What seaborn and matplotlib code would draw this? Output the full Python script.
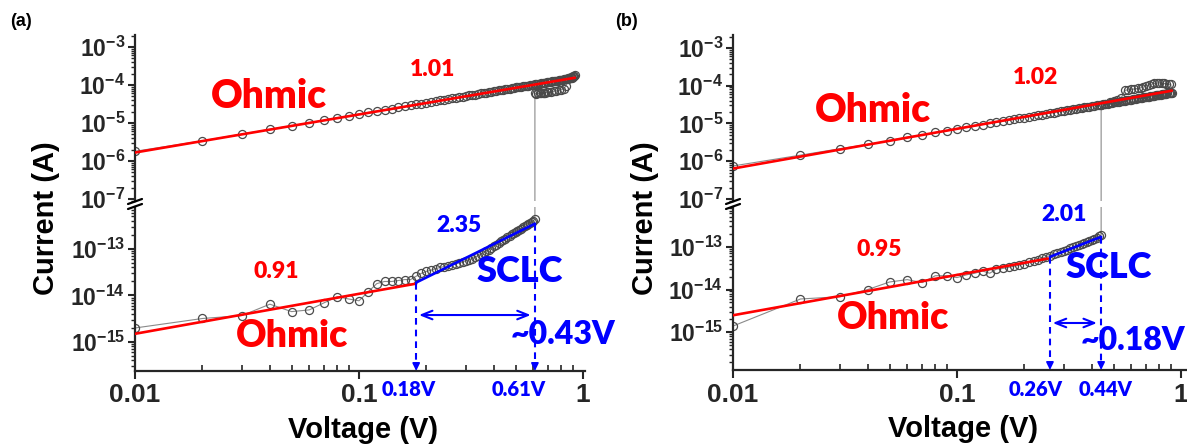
import numpy as np
import pandas as pd
import matplotlib
matplotlib.use("Agg")
import matplotlib.pyplot as plt
import seaborn as sns
from matplotlib.ticker import LogLocator, FixedLocator, FuncFormatter, NullFormatter
from matplotlib.lines import Line2D

# ---------------- data ----------------
# panel (a) : HRS forward sweep (fA)
A_lo_V = [0.01, 0.02, 0.03, 0.04, 0.05, 0.06, 0.07, 0.08, 0.09, 0.10,
          0.11, 0.12, 0.13, 0.14, 0.15, 0.16, 0.17, 0.18, 0.19, 0.20,
          0.21, 0.22, 0.23, 0.24, 0.25, 0.26, 0.27, 0.28, 0.29, 0.30,
          0.31, 0.32, 0.33, 0.34, 0.35, 0.36, 0.37, 0.38, 0.39, 0.40,
          0.41, 0.42, 0.43, 0.44, 0.45, 0.46, 0.47, 0.48, 0.49, 0.50,
          0.51, 0.52, 0.53, 0.54, 0.55, 0.56, 0.57, 0.58, 0.59, 0.60,
          0.61]
A_lo_fA = [2.0, 3.2, 3.7, 6.5, 4.5, 4.9, 7.0, 9.4, 8.4, 7.7,
           12, 18, 20, 20, 21, 22, 22, 26, 30, 33,
           35, 38, 40, 42, 44, 46, 48, 50, 53, 56,
           59, 62, 67, 72, 77, 83, 90, 97, 105, 115,
           124, 135, 145, 155, 166, 178, 191, 205, 220, 235,
           248, 260, 275, 290, 305, 320, 340, 360, 380, 400,
           440]
# panel (a) : after switching (uA)
A_set_V = [0.61, 0.62, 0.63, 0.64, 0.65, 0.66, 0.67, 0.68, 0.69, 0.70, 0.72,
           0.74, 0.76, 0.78, 0.80, 0.82, 0.84, 0.86, 0.88, 0.90, 0.92]
A_set_uA = [60, 58, 60, 60, 61, 62, 62, 63, 64, 65, 66,
            68, 70, 72, 75, 80, 95, 150, 165, 175, 180]
# panel (a) : LRS return sweep (uA), listed with increasing voltage
A_ret_V = [0.01, 0.02, 0.03, 0.04, 0.05, 0.06, 0.07, 0.08, 0.09, 0.10,
           0.11, 0.12, 0.13, 0.14, 0.15, 0.16, 0.17, 0.18, 0.19, 0.20,
           0.21, 0.22, 0.23, 0.24, 0.25, 0.26, 0.27, 0.28, 0.29, 0.30,
           0.31, 0.32, 0.33, 0.34, 0.35, 0.36, 0.37, 0.38, 0.39, 0.40,
           0.41, 0.42, 0.43, 0.44, 0.45, 0.46, 0.47, 0.48, 0.49, 0.50,
           0.51, 0.52, 0.53, 0.54, 0.55, 0.56, 0.57, 0.58, 0.59, 0.60,
           0.61, 0.62, 0.63, 0.64, 0.65, 0.66, 0.67, 0.68, 0.69, 0.70,
           0.71, 0.72, 0.73, 0.74, 0.75, 0.76, 0.77, 0.78, 0.79, 0.80,
           0.81, 0.82, 0.83, 0.84, 0.85, 0.86, 0.87, 0.88, 0.89, 0.90,
           0.91]
A_ret_uA = [1.8, 3.4, 5.1, 6.8, 8.5, 10.2, 11.8, 13.8, 15.5, 17.2,
            18.9, 20.6, 22.3, 24.0, 25.7, 27.4, 29.1, 30.8, 32.5, 34.2,
            35.9, 37.6, 39.3, 41.0, 42.7, 44.4, 46.1, 47.8, 49.5, 51.2,
            53, 55, 56, 58, 60, 62, 63, 65, 67, 69,
            70, 72, 74, 75, 77, 79, 80, 82, 84, 86,
            87, 89, 91, 92, 94, 96, 97, 99, 101, 103,
            104, 106, 108, 109, 111, 113, 114, 116, 118, 120,
            121, 123, 125, 126, 128, 130, 131, 133, 135, 137,
            138, 140, 142, 143, 145, 147, 149, 152, 155, 160,
            170]

# panel (b) : HRS forward sweep (fA)
B_lo_V = [0.01, 0.02, 0.03, 0.04, 0.05, 0.06, 0.07, 0.08, 0.09, 0.10,
          0.11, 0.12, 0.13, 0.14, 0.15, 0.16, 0.17, 0.18, 0.19, 0.20,
          0.21, 0.22, 0.23, 0.24, 0.25, 0.26, 0.27, 0.28, 0.29, 0.30,
          0.31, 0.32, 0.33, 0.34, 0.35, 0.36, 0.37, 0.38, 0.39, 0.40,
          0.41, 0.42, 0.43, 0.44]
B_lo_fA = [1.4, 6.0, 6.8, 10, 15, 17, 14.5, 21, 21, 19,
           22, 24, 27, 24, 30, 31, 33, 35, 37, 40,
           43, 46, 50, 54, 58, 62, 66, 71, 76, 81,
           86, 91, 97, 103, 109, 116, 123, 130, 138, 146,
           155, 164, 174, 190]
# panel (b) : after switching (uA)
B_set_V = [0.44, 0.46, 0.48, 0.50, 0.52, 0.54, 0.56, 0.58, 0.60, 0.62, 0.64, 0.66,
           0.68, 0.70, 0.72, 0.74, 0.76, 0.78, 0.80, 0.82, 0.84, 0.86, 0.88, 0.90]
B_set_uA = [30, 33, 36, 39, 42, 46, 75, 78, 80, 82, 85, 88,
            92, 100, 105, 110, 115, 118, 120, 118, 115, 112, 110, 108]
# panel (b) : LRS return sweep (uA), listed with increasing voltage
B_ret_V = A_ret_V
B_ret_uA = [0.75, 1.45, 2.15, 2.8, 3.5, 4.35, 5.0, 5.8, 6.4, 7.2,
            7.9, 8.6, 9.4, 10.1, 10.8, 11.5, 12.2, 13.0, 13.7, 14.4,
            15.1, 15.8, 16.5, 17.3, 18.0, 18.7, 19.4, 20.1, 20.9, 21.6,
            22.3, 23.0, 23.7, 24.5, 25.2, 25.9, 26.6, 27.3, 28.0, 28.8,
            29.5, 30.2, 30.9, 31.6, 32.4, 33.1, 33.8, 34.5, 35.2, 36.0,
            36.7, 37.4, 38.1, 38.8, 39.6, 40.3, 41.0, 41.7, 42.4, 43.2,
            43.9, 44.6, 45.3, 46.0, 46.8, 47.5, 48.2, 48.9, 49.6, 50.4,
            51.1, 51.8, 52.5, 53.2, 54.0, 54.7, 55.4, 56.1, 56.8, 57.6,
            58.3, 59.0, 59.7, 60.4, 61.2, 61.9, 62.6, 63.3, 64.0, 64.8,
            66]

# fitted lines (end points)
A_fit_up_V, A_fit_up_I = [0.01, 0.92], [1.67e-6, 1.55e-4]
A_fit_ohm_V, A_fit_ohm_I = [0.01, 0.18], [1.5e-15, 1.8e-14]
A_fit_sclc_V, A_fit_sclc_I = [0.18, 0.61], [1.9e-14, 3.5e-13]
B_fit_up_V, B_fit_up_I = [0.01, 0.91], [6.4e-7, 7.4e-5]
B_fit_ohm_V, B_fit_ohm_I = [0.01, 0.255], [2.5e-15, 5.3e-14]
B_fit_sclc_V, B_fit_sclc_I = [0.26, 0.44], [5.8e-14, 1.7e-13]

A_slopes = ["1.01", "0.91", "2.35"]
B_slopes = ["1.02", "0.95", "2.01"]
A_marks = [0.18, 0.61]
B_marks = [0.26, 0.44]
A_window = "~0.43V"
B_window = "~0.18V"
x_ticks = [0.01, 0.1, 1]
x_ticklabels = ["0.01", "0.1", "1"]

# ---------------- style ----------------
sns.set_style("ticks")
plt.rcParams["font.family"] = ["Liberation Sans", "DejaVu Sans"]
plt.rcParams["mathtext.fontset"] = "custom"
plt.rcParams["mathtext.rm"] = "Liberation Sans:weight=bold"
plt.rcParams["mathtext.bf"] = "Liberation Sans:weight=bold"
plt.rcParams["mathtext.default"] = "bf"
plt.rcParams["axes.linewidth"] = 1.6

W, H = 1187, 447
fig = plt.figure(figsize=(W / 100, H / 100), dpi=100)
RED, BLUE = "#ff0000", "#0000ff"
ANN_FONT = ["Lato", "DejaVu Sans"]


def box(l, t, r, b):
    return [l / W, 1 - b / H, (r - l) / W, (b - t) / H]


def ftext(px, py, s, color, size, ha="center", family=ANN_FONT, rot=0, weight="heavy"):
    fig.text(px / W, 1 - py / H, s, color=color, fontsize=size, fontweight=weight,
             ha=ha, va="center", family=family, rotation=rot)


def style_y(ax):
    ax.yaxis.set_major_locator(LogLocator(base=10, numticks=30))
    ax.yaxis.set_minor_locator(LogLocator(base=10, subs=np.arange(2, 10), numticks=30))
    ax.yaxis.set_major_formatter(
        FuncFormatter(lambda v, p: r"$\mathbf{10^{%d}}$" % int(round(np.log10(v)))))
    ax.yaxis.set_minor_formatter(NullFormatter())
    ax.tick_params(axis="y", which="major", direction="out", length=5, width=1.5,
                   labelsize=16.5, pad=2)
    ax.tick_params(axis="y", which="minor", direction="out", length=3, width=1)
    for s in ("top", "right"):
        ax.spines[s].set_visible(False)


def sweep_frame(lo_V, lo_fA, set_V, set_uA, ret_V, ret_uA):
    V = list(lo_V) + list(set_V) + list(ret_V)[::-1]
    I = ([v * 1e-15 for v in lo_fA] + [v * 1e-6 for v in set_uA]
         + [v * 1e-6 for v in ret_uA][::-1])
    return pd.DataFrame({"V": V, "I": I, "step": np.arange(len(V))})


def draw_data(ax, df):
    sns.lineplot(data=df, x="V", y="I", sort=False, estimator=None, ax=ax,
                 color="#8a8a8a", lw=0.8, marker="o", ms=5.8, mfc="none",
                 mec="#4a4a4a", mew=0.9, zorder=2)


def panel(left, right, lo_bottom, up_ylim, lo_ylim, df, fits, slopes, marks, window,
          arrow_y, txt):
    xmax = 10 ** (-2 + (right - left) / 224)
    ax_up = fig.add_axes(box(left, 35, right, 201))
    ax_lo = fig.add_axes(box(left, 207, right, lo_bottom))
    for ax in (ax_up, ax_lo):
        ax.set_xscale("log")
        ax.set_yscale("log")
        draw_data(ax, df)
    (fu_V, fu_I), (fo_V, fo_I), (fs_V, fs_I) = fits
    sns.lineplot(x=fu_V, y=fu_I, ax=ax_up, color=RED, lw=1.9, zorder=3)
    sns.lineplot(x=fo_V, y=fo_I, ax=ax_lo, color=RED, lw=1.9, zorder=3)
    sns.lineplot(x=fs_V, y=fs_I, ax=ax_lo, color=BLUE, lw=1.9, zorder=3)

    for ax, yl in ((ax_up, up_ylim), (ax_lo, lo_ylim)):
        ax.set_xlim(0.01, xmax)
        ax.set_ylim(*yl)
        style_y(ax)
        ax.set_xlabel("")
        ax.set_ylabel("")
    ax_up.spines["bottom"].set_visible(False)
    ax_up.tick_params(axis="x", which="both", bottom=False, labelbottom=False)

    ax_lo.xaxis.set_major_locator(FixedLocator(x_ticks))
    ax_lo.set_xticklabels(x_ticklabels, fontsize=19, fontweight="bold")
    ax_lo.xaxis.set_minor_locator(LogLocator(base=10, subs=np.arange(2, 10), numticks=30))
    ax_lo.xaxis.set_minor_formatter(NullFormatter())
    ax_lo.tick_params(axis="x", which="major", direction="out", length=6, width=1.5, pad=3)
    ax_lo.tick_params(axis="x", which="minor", direction="in", length=4, width=1.2)

    # dashed markers of the SCLC window
    ylo = lo_ylim[0]
    for v, y0 in zip(marks, (fs_I[0], fs_I[-1])):
        ax_lo.plot([v, v], [y0, ylo * 1.25], ls=(0, (3.2, 2.4)), color=BLUE, lw=1.5, zorder=4)
        ax_lo.annotate("", xy=(v, ylo), xytext=(v, ylo * 1.35),
                       arrowprops=dict(arrowstyle="-|>,head_length=0.45,head_width=0.22",
                                       color=BLUE, lw=1.2, shrinkA=0, shrinkB=0,
                                       mutation_scale=10), zorder=4)
    ax_lo.annotate("", xy=(marks[1], arrow_y), xytext=(marks[0], arrow_y),
                   arrowprops=dict(arrowstyle="<->,head_length=0.55,head_width=0.22",
                                   color=BLUE, lw=1.5, shrinkA=2, shrinkB=3,
                                   mutation_scale=14), zorder=4)

    # axis break marks
    for dy in (0, 5):
        fig.add_artist(Line2D([(left - 7) / W, (left + 7) / W],
                              [1 - (204 + dy) / H, 1 - (199 + dy) / H],
                              transform=fig.transFigure, color="black", lw=1.6))

    # texts
    ftext(*txt["up_slope"], slopes[0], RED, 16.5)
    ftext(*txt["up_ohm"], "Ohmic", RED, 28)
    ftext(*txt["lo_slope"], slopes[1], RED, 16.5)
    ftext(*txt["sclc_slope"], slopes[2], BLUE, 16.5)
    ftext(*txt["sclc"], "SCLC", BLUE, 26)
    ftext(*txt["lo_ohm"], "Ohmic", RED, 27)
    ftext(*txt["window"], window, BLUE, 23, ha="left")
    ftext(*txt["m0"], f"{marks[0]:.2f}V", BLUE, 14.5)
    ftext(*txt["m1"], f"{marks[1]:.2f}V", BLUE, 14.5)
    ftext(*txt["tag"][:2], txt["tag"][2], "black", 13, family=["Liberation Sans"], weight="bold")
    ftext(*txt["ylab"], "Current (A)", "black", 21, family=["Liberation Sans"], rot=90,
          weight="bold")
    ftext(*txt["xlab"], "Voltage (V)", "black", 21, family=["Liberation Sans"], weight="bold")
    return ax_up, ax_lo


dfA = sweep_frame(A_lo_V, A_lo_fA, A_set_V, A_set_uA, A_ret_V, A_ret_uA)
dfB = sweep_frame(B_lo_V, B_lo_fA, B_set_V, B_set_uA, B_ret_V, B_ret_uA)

panel(135, 585, 371, (10 ** -7.053, 10 ** -2.684), (10 ** -15.624, 10 ** -12.097), dfA,
      [(A_fit_up_V, A_fit_up_I), (A_fit_ohm_V, A_fit_ohm_I), (A_fit_sclc_V, A_fit_sclc_I)],
      A_slopes, A_marks, A_window, 3.8e-15,
      dict(up_slope=(433, 70), up_ohm=(269, 97), lo_slope=(276, 272), sclc_slope=(459, 226),
           sclc=(520, 271), lo_ohm=(292, 336), window=(511, 335), m0=(409, 390), m1=(519, 390),
           tag=(21, 22, "(a)"), ylab=(46, 218), xlab=(363, 430)))

panel(733, 1186, 370, (10 ** -7.053, 10 ** -2.656), (10 ** -15.881, 10 ** -12.072), dfB,
      [(B_fit_up_V, B_fit_up_I), (B_fit_ohm_V, B_fit_ohm_I), (B_fit_sclc_V, B_fit_sclc_I)],
      B_slopes, B_marks, B_window, 1.65e-15,
      dict(up_slope=(1036, 77), up_ohm=(873, 110), lo_slope=(879, 250), sclc_slope=(1064, 215),
           sclc=(1109, 268), lo_ohm=(893, 318), window=(1081, 341), m0=(1036, 390), m1=(1106, 390),
           tag=(626, 22, "(b)"), ylab=(645, 218), xlab=(963, 429)))

fig.savefig("out.png", dpi=100)
